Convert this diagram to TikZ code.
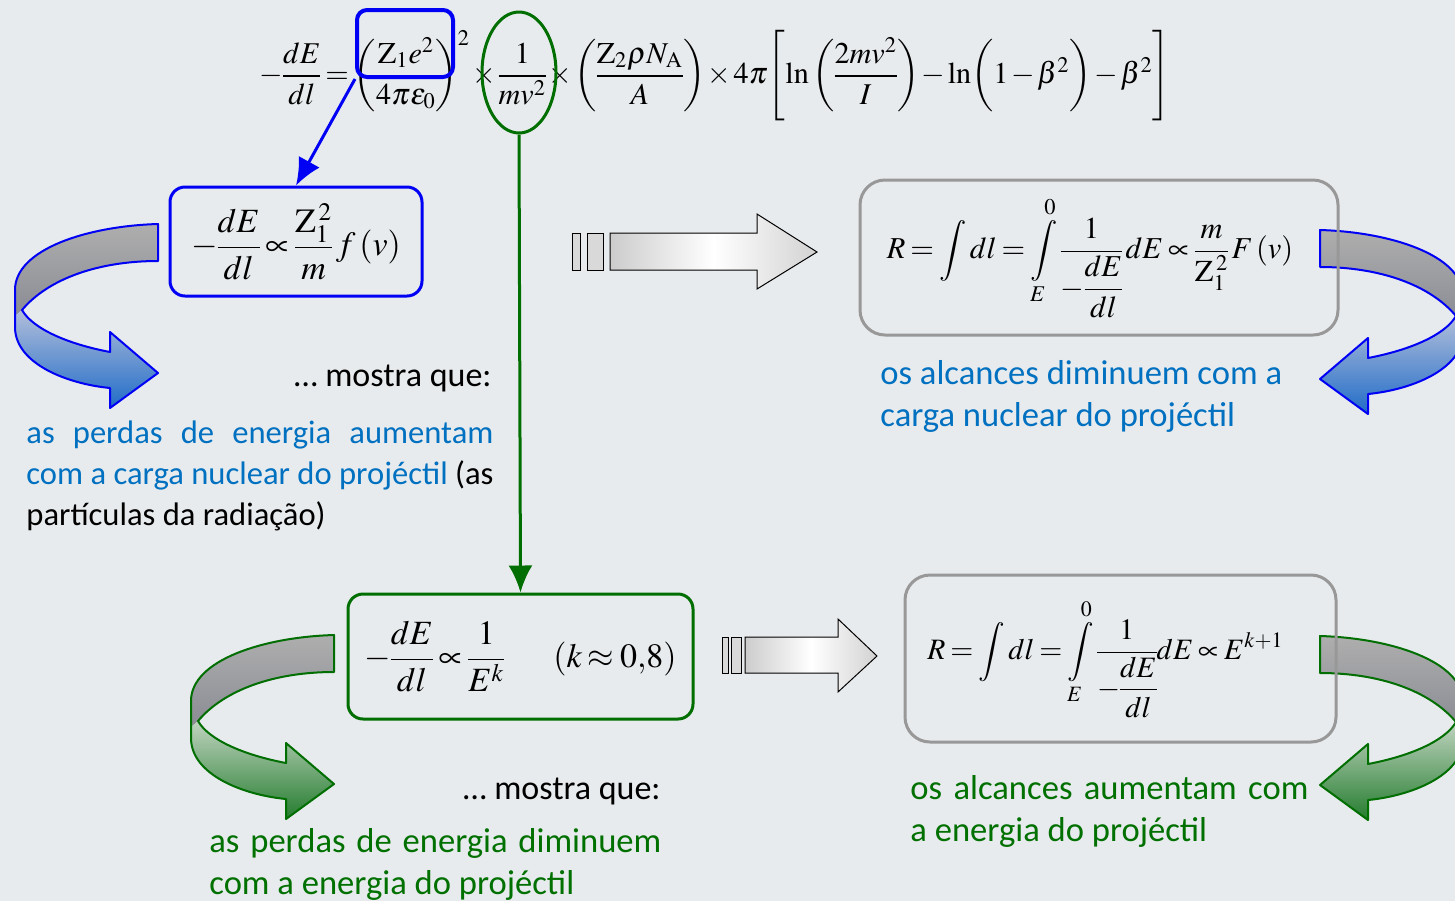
\documentclass[tikz,border=0pt]{standalone}
\usepackage{amsmath}
\usepackage{mathptmx}
\usepackage[no-math]{fontspec}
\newfontfamily\calibri{Carlito}
\usetikzlibrary{shapes.geometric,arrows.meta}

\definecolor{bgc}{RGB}{232,235,237}
\definecolor{zblue}{RGB}{0,0,245}
\definecolor{dgreen}{RGB}{0,110,0}
\definecolor{txtblue}{RGB}{0,112,192}
\definecolor{txtgreen}{RGB}{0,112,0}
\definecolor{boxgray}{RGB}{152,152,152}
\definecolor{greytop}{RGB}{174,174,174}
\definecolor{greybot}{RGB}{138,140,148}
\definecolor{bluetop}{RGB}{178,190,218}
\definecolor{bluebot}{RGB}{32,108,200}
\definecolor{greentop}{RGB}{192,212,192}
\definecolor{greenbot}{RGB}{36,124,46}

% tighter spacing, closer to the equation editor look
\thinmuskip=2mu
\medmuskip=1.5mu plus 1mu
\thickmuskip=3mu plus 1mu
\nulldelimiterspace=0pt

\tikzset{
  eqbox/.style={draw, line width=1.5pt, rounded corners=7.5pt, inner sep=0pt},
  txt/.style={inner sep=0pt, font=\calibri\fontsize{17.3}{21}\selectfont},
}
\newcommand{\eqsize}[1]{\fontsize{#1}{#1}\selectfont}

% twisted band arrow, drawn from the top of its flat end
\newcommand{\turnarrow}[3]{%
  \shade[top color=greytop, bottom color=greybot]
    (0,0) .. controls (-70,2) and (-143,25) .. (-143,66) -- (-143,92) -- (-136,86)
    .. controls (-110,55) and (-60,37) .. (0,37) -- cycle;
  \shade[top color=#2, bottom color=#3]
    (-143,92) -- (-143,103) .. controls (-143,140) and (-90,160) .. (-48,164)
    -- (-48,184) -- (0,149) -- (-48,108) -- (-48,128)
    .. controls (-90,120) and (-125,105) .. (-136,86) -- cycle;
  \draw[#1, line width=1pt, line join=round]
    (0,0) .. controls (-70,2) and (-143,25) .. (-143,66) -- (-143,103)
    .. controls (-143,140) and (-90,160) .. (-48,164)
    -- (-48,184) -- (0,149) -- (-48,108) -- (-48,128)
    .. controls (-90,120) and (-125,105) .. (-136,86)
    .. controls (-110,55) and (-60,37) .. (0,37) -- cycle;
}

\begin{document}
\begin{tikzpicture}[x=0.5pt, y=-0.5pt, >={Latex[length=13.5pt,width=12pt]}]
  \path[use as bounding box, fill=bgc] (0,0) rectangle (1455,901);
  \clip (0,0) rectangle (1455,901);

  % Bethe formula
  \node[font=\eqsize{15.1}, inner sep=0pt] (bethe) at (715,76)
    {$-\dfrac{dE}{dl}=\left(\dfrac{\mathrm{Z}_1e^2}{4\pi\varepsilon_0}\right)^{2}\times\dfrac{1}{mv^2}\times\left(\dfrac{\mathrm{Z}_2\rho N_{\mathrm{A}}}{A}\right)\times4\pi\Biggl[\ln\left(\dfrac{2mv^2}{I}\right)-\ln\biggl(1-\beta^2\biggr)-\beta^2\Biggr]$};
  \node[draw=zblue, line width=2pt, rounded corners=5pt, minimum width=48pt, minimum height=33.5pt] (zbox) at (405,43.5) {};
  \node[draw=dgreen, line width=1.5pt, ellipse, minimum width=37pt, minimum height=60.5pt, inner sep=0pt] (vbox) at (519,72.5) {};

  % band arrows
  \begin{scope}[shift={(158,224)}]
    \turnarrow{zblue}{bluetop}{bluebot}
  \end{scope}
  \begin{scope}[shift={(1320,230)}, xscale=-1]
    \turnarrow{zblue}{bluetop}{bluebot}
  \end{scope}
  \begin{scope}[shift={(334,635)}]
    \turnarrow{dgreen}{greentop}{greenbot}
  \end{scope}
  \begin{scope}[shift={(1320,636)}, xscale=-1]
    \turnarrow{dgreen}{greentop}{greenbot}
  \end{scope}

  % block arrows
  \draw[line width=0.5pt, fill=gray!30] (572,233) rectangle (580,270);
  \draw[line width=0.5pt, fill=gray!30] (587,233) rectangle (603,270);
  \shadedraw[line width=0.5pt, left color=gray!40, right color=gray!35, middle color=white]
    (610,233) -- (757,233) -- (757,214) -- (817,252) -- (757,289) -- (757,270) -- (610,270) -- cycle;
  \draw[line width=0.5pt, fill=gray!30] (722,637) rectangle (728,673);
  \draw[line width=0.5pt, fill=gray!30] (731,637) rectangle (741,673);
  \shadedraw[line width=0.5pt, left color=gray!40, right color=gray!35, middle color=white]
    (745,637) -- (838,637) -- (838,619) -- (877,656) -- (838,692) -- (838,673) -- (745,673) -- cycle;

  % boxes
  \node[eqbox, draw=zblue, minimum width=126pt, minimum height=54.5pt] (bluebox) at (296,241.5)
    {\eqsize{17}$-\dfrac{dE}{dl}\propto\dfrac{\mathrm{Z}_1^{\,2}}{m}\,f\left(v\right)$};
  \node[eqbox, draw=boxgray, rounded corners=12.5pt, minimum width=239pt, minimum height=77.5pt] (rangeA) at (1099,257.5)
    {\eqsize{15.2}$R=\displaystyle\int dl=\int\limits_{E}^{0}\dfrac{1}{-\dfrac{dE}{dl}}\,dE\propto\dfrac{m}{\mathrm{Z}_1^{\,2}}\,F\left(v\right)$\kern9pt};
  \node[eqbox, draw=dgreen, minimum width=172.5pt, minimum height=62.5pt] (greenbox) at (520.5,656.5)
    {\eqsize{17}$-\dfrac{dE}{dl}\propto\dfrac{1}{E^k}\quad\;\;\left(k\approx0{,}8\right)$};
  \node[eqbox, draw=boxgray, rounded corners=12.5pt, minimum width=215.5pt, minimum height=83.5pt] (rangeB) at (1120.5,658.5)
    {\eqsize{14.8}$R=\displaystyle\int dl=\int\limits_{E}^{0}\dfrac{1}{-\dfrac{dE}{dl}}dE\propto E^{k+1}$\kern15pt};

  % connectors
  \draw[->, zblue, line width=1.5pt] (zbox.south west) -- (bluebox.north);
  \draw[->, dgreen, line width=1.5pt] (vbox.south) -- (greenbox.north);

  % texts (multi-line nodes sit on their last baseline)
  \node[txt, font=\calibri\fontsize{17}{21}\selectfont, anchor=base east] (showA) at (492,386) {… mostra que:};
  \node[txt, font=\calibri\fontsize{16.3}{20.5}\selectfont, anchor=base west, align=left, text=txtblue] (lossA) at (26,525)
    {\makebox[233.5pt][s]{as perdas de energia aumentam}\\
     \makebox[233.5pt][s]{com a carga nuclear do projéctil \textcolor{black}{(as}}\\
     \textcolor{black}{partículas da radiação)}};
  \node[txt, anchor=base west, align=left, text=txtblue] (rangetxtA) at (880,426)
    {os alcances diminuem com a\\carga nuclear do projéctil};
  \node[txt, font=\calibri\fontsize{17}{21}\selectfont, anchor=base east] (showB) at (661,799) {… mostra que:};
  \node[txt, anchor=base west, align=left, text=txtgreen] (lossB) at (209,894)
    {\makebox[226pt][s]{as perdas de energia diminuem}\\com a energia do projéctil};
  \node[txt, anchor=base west, align=left, text=txtgreen] (rangetxtB) at (910,841)
    {\makebox[199pt][s]{os alcances aumentam com}\\a energia do projéctil};
\end{tikzpicture}
\end{document}
